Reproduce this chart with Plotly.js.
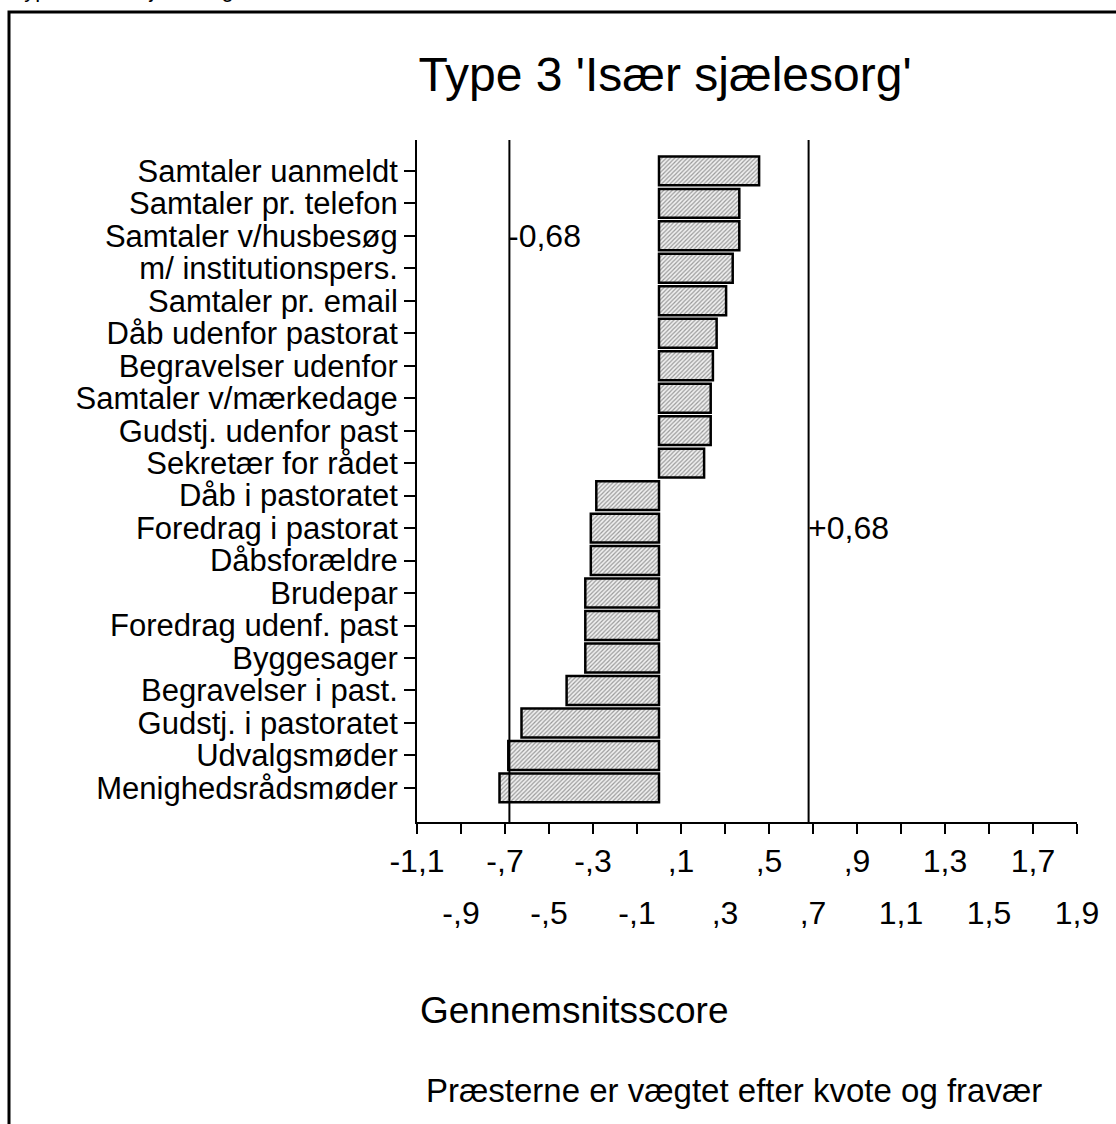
<!DOCTYPE html>
<html>
<head>
<meta charset="utf-8">
<script src="https://cdn.plot.ly/plotly-3.0.1.min.js"></script>
<style>html,body{margin:0;padding:0;background:#fff;}#chart{width:1116px;height:1124px;}</style>
</head>
<body>
<div id="chart"></div>
<script>
const categories = [
  "Samtaler uanmeldt",
  "Samtaler pr. telefon",
  "Samtaler v/husbesøg",
  "m/ institutionspers.",
  "Samtaler pr. email",
  "Dåb udenfor pastorat",
  "Begravelser udenfor",
  "Samtaler v/mærkedage",
  "Gudstj. udenfor past",
  "Sekretær for rådet",
  "Dåb i pastoratet",
  "Foredrag i pastorat",
  "Dåbsforældre",
  "Brudepar",
  "Foredrag udenf. past",
  "Byggesager",
  "Begravelser i past.",
  "Gudstj. i pastoratet",
  "Udvalgsmøder",
  "Menighedsrådsmøder"
];
const scores = [0.455, 0.365, 0.365, 0.335, 0.305, 0.262, 0.245, 0.235, 0.235, 0.205,
  -0.285, -0.31, -0.31, -0.335, -0.335, -0.335, -0.42, -0.625, -0.685, -0.725];

const row1Ticks = [-1.1, -0.7, -0.3, 0.1, 0.5, 0.9, 1.3, 1.7];
const row1Labels = ["-1,1", "-,7", "-,3", ",1", ",5", ",9", "1,3", "1,7"];
const row2Ticks = [-0.9, -0.5, -0.1, 0.3, 0.7, 1.1, 1.5, 1.9];
const row2Labels = ["-,9", "-,5", "-,1", ",3", ",7", "1,1", "1,5", "1,9"];
const refLines = [-0.68, 0.68];
const refLabels = ["-0,68", "+0,68"];

const FONT = "Liberation Sans, Arial, sans-serif";

const trace = {
  type: "bar",
  orientation: "h",
  y: categories,
  x: scores,
  base: 0,
  marker: {
    color: "#ffffff",
    line: {color: "#000000", width: 2.5},
    pattern: {shape: "/", fgcolor: "#9a9a9a", bgcolor: "#f0f0f0", size: 3, solidity: 0.4}
  },
  hoverinfo: "x+y",
  showlegend: false
};

const trace2 = {
  type: "scatter", mode: "markers", x: [row2Ticks[0]], y: [categories[0]],
  xaxis: "x2", marker: {opacity: 0}, hoverinfo: "skip", showlegend: false
};

const allTicks = row1Ticks.concat(row2Ticks).sort((a, b) => a - b);

const shapes = refLines.map(v => ({
  type: "line", xref: "x", yref: "paper", x0: v, x1: v, y0: 0, y1: 1,
  line: {color: "#000", width: 2}
}));
shapes.push({
  type: "rect", xref: "paper", yref: "paper",
  x0: (9 - 417) / 660, x1: (1125 - 417) / 660,
  y0: (822 - 1135) / 682, y1: (822 - 12) / 682,
  line: {color: "#000", width: 3}, fillcolor: "rgba(0,0,0,0)", layer: "below"
});

const annotations = [
  {xref: "x", yref: "y", x: refLines[0], y: categories[2], text: refLabels[0],
   showarrow: false, xanchor: "left", xshift: -3, font: {family: FONT, size: 32, color: "#000"}},
  {xref: "x", yref: "y", x: refLines[1], y: categories[11], text: refLabels[1],
   showarrow: false, xanchor: "left", xshift: -3, font: {family: FONT, size: 32, color: "#000"}},
  {xref: "paper", yref: "paper", x: (574 - 417) / 660, y: (822 - 1010) / 682,
   text: "Gennemsnitsscore", showarrow: false, xanchor: "center", yanchor: "middle",
   font: {family: FONT, size: 37, color: "#000"}},
  {xref: "paper", yref: "paper", x: (734 - 417) / 660, y: (822 - 1090) / 682,
   text: "Præsterne er vægtet efter kvote og fravær", showarrow: false, xanchor: "center", yanchor: "middle",
   font: {family: FONT, size: 33, color: "#000"}},
  {xref: "paper", yref: "paper", x: (10 - 417) / 660, y: (822 - 4) / 682,
   text: "Type 3 'Især sjælesorg'", showarrow: false, xanchor: "left", yanchor: "bottom",
   font: {family: FONT, size: 22, color: "#000"}}
];

const layout = {
  width: 1116, height: 1124,
  margin: {l: 417, r: 39, t: 140, b: 302},
  paper_bgcolor: "#fff", plot_bgcolor: "#fff",
  bargap: 0.11,
  font: {family: FONT, size: 31, color: "#000"},
  title: {text: "Type 3 'Især sjælesorg'", font: {family: FONT, size: 48, color: "#000"},
          x: 665 / 1116, xanchor: "center", y: 1 - 74 / 1124, yanchor: "middle"},
  xaxis: {
    range: [-1.1, 1.9], showgrid: false, zeroline: false,
    showline: true, linecolor: "#000", linewidth: 2,
    tickmode: "array", tickvals: allTicks,
    ticktext: allTicks.map(v => { const i = row1Ticks.findIndex(t => Math.abs(t - v) < 1e-9); return i >= 0 ? row1Labels[i] : ""; }),
    ticks: "outside", ticklen: 10, tickwidth: 2, tickcolor: "#000",
    tickfont: {family: FONT, size: 32, color: "#000"}, fixedrange: true
  },
  xaxis2: {
    overlaying: "x", side: "bottom", anchor: "y",
    range: [-1.1, 1.9], showgrid: false, zeroline: false, showline: false,
    tickmode: "array", tickvals: row2Ticks, ticktext: row2Labels,
    ticks: "", ticklabelstandoff: 69,
    tickfont: {family: FONT, size: 32, color: "#000"}, fixedrange: true
  },
  yaxis: {
    type: "category", categoryorder: "array", categoryarray: categories,
    range: [categories.length + 0.05, -0.95],
    tickmode: "linear", tick0: 0, dtick: 1,
    showgrid: false, zeroline: false,
    showline: true, linecolor: "#000", linewidth: 2,
    ticks: "outside", ticklen: 11, tickwidth: 2, tickcolor: "#000",
    tickfont: {family: FONT, size: 31, color: "#000"}, fixedrange: true
  },
  shapes: shapes,
  annotations: annotations
};

Plotly.newPlot("chart", [trace, trace2], layout, {displayModeBar: false, staticPlot: true});
</script>
</body>
</html>
